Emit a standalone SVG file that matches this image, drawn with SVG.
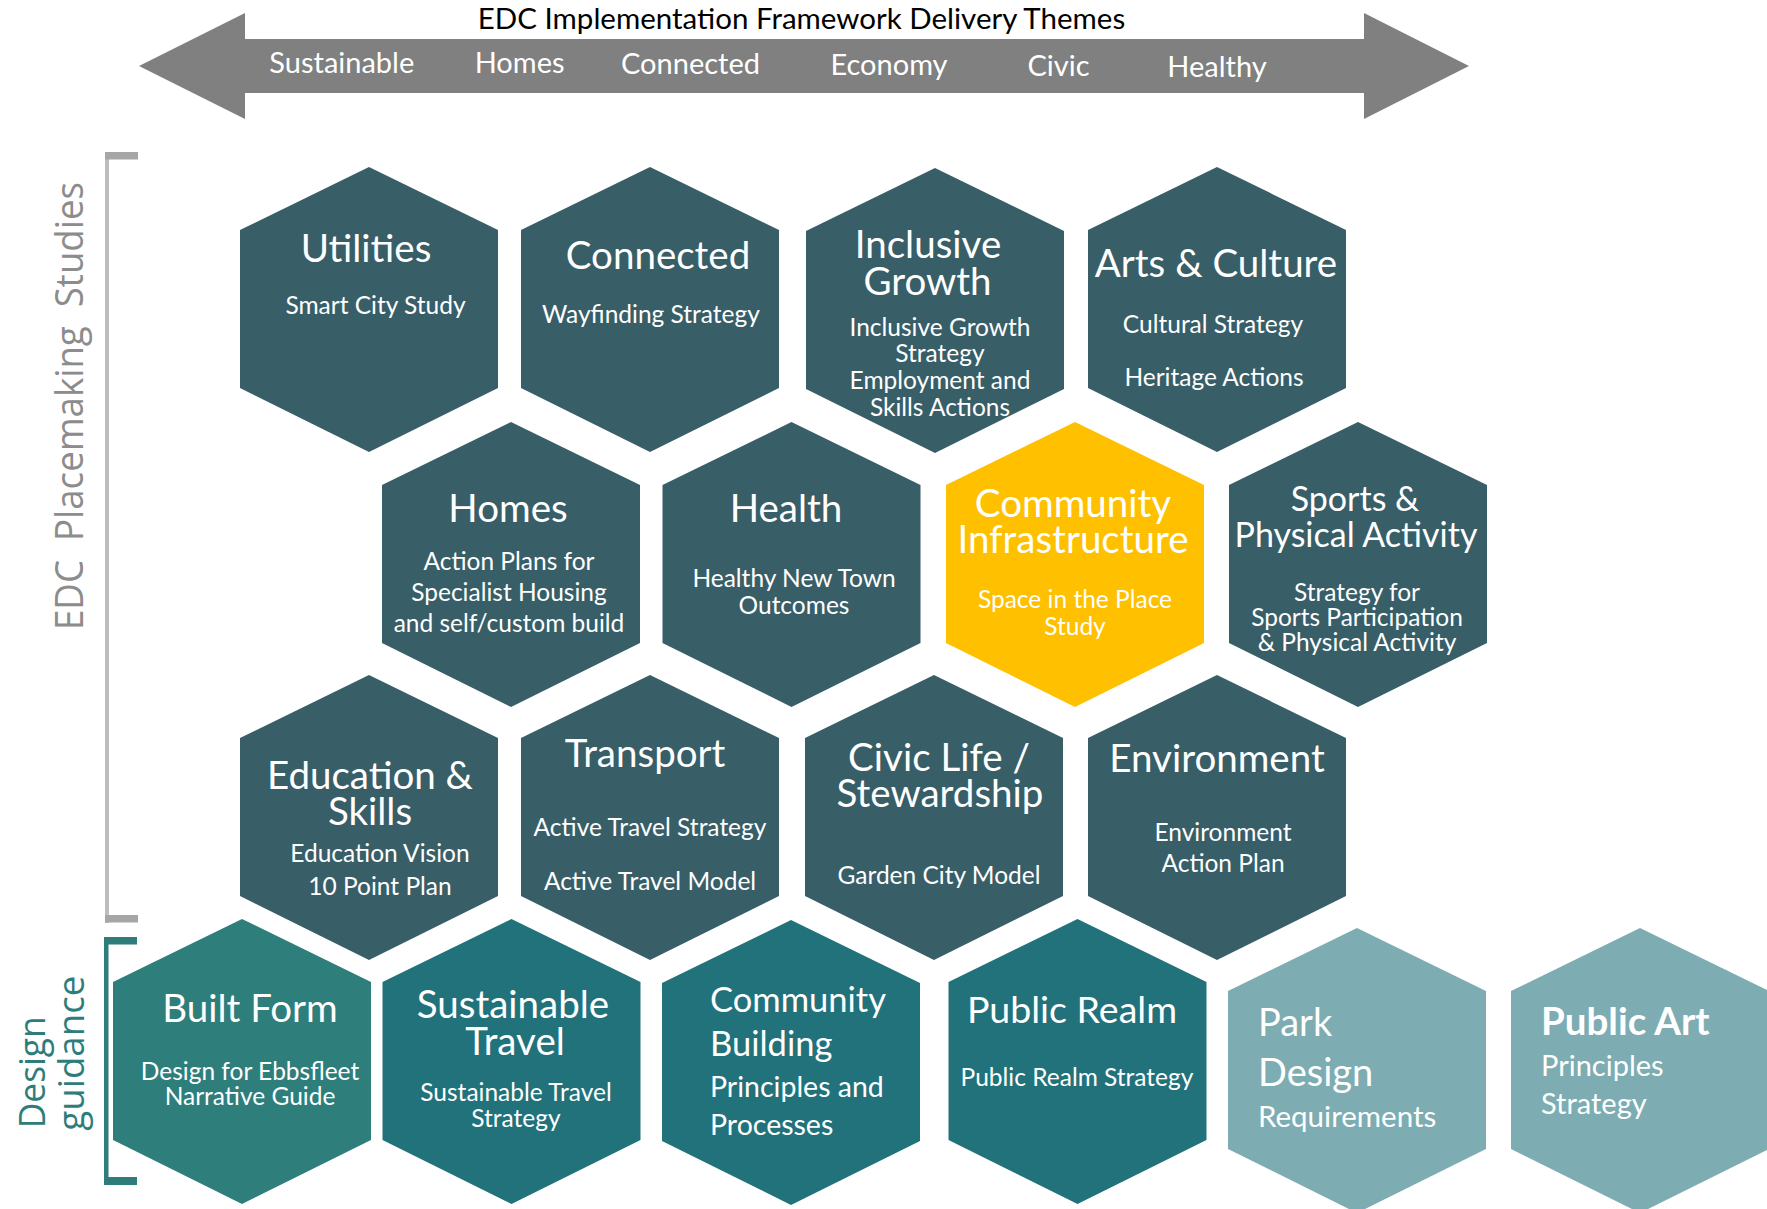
<svg xmlns="http://www.w3.org/2000/svg" xmlns:xlink="http://www.w3.org/1999/xlink" width="1767" height="1209" viewBox="0 0 1767 1209">
<defs>
<style>
.dark{fill:#385E68}
.built{fill:#2E7E7C}
.teal{fill:#22727C}
.light{fill:#7DADB2}
.yellow{fill:#FFC000}
text{font-family:Lato,"Liberation Sans",sans-serif}
.t{fill:#fff;text-anchor:middle}
.h{font-size:38.5px}
.s{font-size:24.5px}
.l{text-anchor:start}
.band{fill:#fff;font-size:29px;text-anchor:middle}
.side{font-family:"Open Sans","Noto Sans",sans-serif}
</style>
<polygon id="hex" points="0,0 129,63 129,221 0,285 -129,221 -129,63"/>
</defs>
<rect width="1767" height="1209" fill="#fff"/>

<g id="theme-arrow">
<polygon points="139,66 245,13 245,39 1364,39 1364,13 1469,66 1364,119 1364,93 245,93 245,119" fill="#808080"/>
<text x="801.5" y="29.3" font-size="29.5" text-anchor="middle" fill="#000">EDC Implementation Framework Delivery Themes</text>
<text class="band" x="341.8" y="72.7">Sustainable</text>
<text class="band" x="519.6" y="72.7">Homes</text>
<text class="band" x="690.5" y="74">Connected</text>
<text class="band" x="889" y="75">Economy</text>
<text class="band" x="1058.5" y="76">Civic</text>
<text class="band" x="1217" y="76.7">Healthy</text>
</g>

<g id="bracket-studies">
<rect x="105" y="152" width="4" height="771" fill="#BDBDBD"/>
<rect x="105" y="152" width="33" height="7.5" fill="#A6A6A6"/>
<rect x="105" y="915" width="33" height="7.5" fill="#A6A6A6"/>
<text class="side" transform="translate(83.3,630) rotate(-90)" font-size="38" fill="#8C8C8C" style="white-space:pre" textLength="448" lengthAdjust="spacingAndGlyphs">EDC  Placemaking  Studies</text>
</g>

<g id="bracket-guidance" fill="#2E7D7B">
<rect x="104" y="937" width="4.5" height="248"/>
<rect x="104" y="937" width="33" height="7.5"/>
<rect x="104" y="1177" width="33" height="8"/>
<text class="side" transform="translate(45,1128.3) rotate(-90)" font-size="36" textLength="112" lengthAdjust="spacingAndGlyphs">Design</text>
<text class="side" transform="translate(84,1130.7) rotate(-90)" font-size="36" textLength="155" lengthAdjust="spacingAndGlyphs">guidance</text>
</g>

<g id="connectors"/>

<g id="utilities">
<use href="#hex" x="369" y="167" class="dark"/>
<text class="t h" x="366" y="261.5">Utilities</text>
<text class="t s" x="375.5" y="314">Smart City Study</text>
</g>
<g id="connected">
<use href="#hex" x="650" y="167" class="dark"/>
<text class="t h" x="658" y="268.5">Connected</text>
<text class="t s" x="651" y="322.5">Wayfinding Strategy</text>
</g>
<g id="inclusive-growth">
<use href="#hex" x="935" y="168" class="dark"/>
<text class="t h" x="928" y="258">Inclusive</text>
<text class="t h" x="927.5" y="294.7">Growth</text>
<text class="t s" x="940" y="335.7">Inclusive Growth</text>
<text class="t s" x="940" y="362.4">Strategy</text>
<text class="t s" x="940" y="389">Employment and</text>
<text class="t s" x="940" y="415.7">Skills Actions</text>
</g>
<g id="arts-culture">
<use href="#hex" x="1217" y="167" class="dark"/>
<text class="t h" x="1216" y="277.4">Arts &amp; Culture</text>
<text class="t s" x="1213" y="333.4">Cultural Strategy</text>
<text class="t s" x="1214" y="385.7">Heritage Actions</text>
</g>

<g id="homes">
<use href="#hex" x="511" y="422" class="dark"/>
<text class="t h" x="508" y="521.7">Homes</text>
<text class="t s" x="509" y="569.7">Action Plans for</text>
<text class="t s" x="509" y="600.7">Specialist Housing</text>
<text class="t s" x="509" y="632.4">and self/custom build</text>
</g>
<g id="health">
<use href="#hex" x="791.5" y="422" class="dark"/>
<text class="t h" x="786" y="522.4">Health</text>
<text class="t s" x="794" y="587.4">Healthy New Town</text>
<text class="t s" x="794" y="614">Outcomes</text>
</g>
<g id="community-infrastructure">
<use href="#hex" x="1075" y="422" class="yellow"/>
<text class="t h" x="1073" y="517.4">Community</text>
<text class="t h" x="1073" y="553.4">Infrastructure</text>
<text class="t s" x="1075" y="608.4">Space in the Place</text>
<text class="t s" x="1075" y="635">Study</text>
</g>
<g id="sports">
<use href="#hex" x="1358" y="422" class="dark"/>
<text class="t" x="1355" y="511.4" font-size="34">Sports &amp;</text>
<text class="t" x="1356" y="547.4" font-size="34">Physical Activity</text>
<text class="t s" x="1357" y="600.7">Strategy for</text>
<text class="t s" x="1357" y="625.7">Sports Participation</text>
<text class="t s" x="1357" y="651.4">&amp; Physical Activity</text>
</g>

<g id="education">
<use href="#hex" x="369" y="675" class="dark"/>
<text class="t h" x="370" y="789">Education &amp;</text>
<text class="t h" x="370" y="824.7">Skills</text>
<text class="t s" x="380" y="862.4">Education Vision</text>
<text class="t s" x="380" y="895">10 Point Plan</text>
</g>
<g id="transport">
<use href="#hex" x="650" y="675" class="dark"/>
<text class="t h" x="645" y="766.7">Transport</text>
<text class="t s" x="650" y="835.7">Active Travel Strategy</text>
<text class="t s" x="650" y="890">Active Travel Model</text>
</g>
<g id="civic-life">
<use href="#hex" x="934" y="675" class="dark"/>
<text class="t h" x="939" y="771.4">Civic Life /</text>
<text class="t h" x="940" y="807.4">Stewardship</text>
<text class="t s" x="939" y="884">Garden City Model</text>
</g>
<g id="environment">
<use href="#hex" x="1217" y="675" class="dark"/>
<text class="t h" x="1217" y="772.4">Environment</text>
<text class="t s" x="1223" y="840.7">Environment</text>
<text class="t s" x="1223" y="872.4">Action Plan</text>
</g>

<g id="built-form">
<use href="#hex" x="242" y="919" class="built"/>
<text class="t h" x="250" y="1022.4">Built Form</text>
<text class="t s" x="250" y="1079.7">Design for Ebbsfleet</text>
<text class="t s" x="250" y="1104.7">Narrative Guide</text>
</g>
<g id="sustainable-travel">
<use href="#hex" x="511.5" y="919" class="teal"/>
<text class="t h" x="513" y="1018">Sustainable</text>
<text class="t h" x="515" y="1054.7">Travel</text>
<text class="t s" x="516" y="1100.7">Sustainable Travel</text>
<text class="t s" x="516" y="1127.4">Strategy</text>
</g>
<g id="community-building">
<use href="#hex" x="791" y="920" class="teal"/>
<text class="t l" x="710" y="1012.4" font-size="34.5">Community</text>
<text class="t l" x="710" y="1055.7" font-size="34.5">Building</text>
<text class="t l" x="710" y="1097.4" font-size="28.5">Principles and</text>
<text class="t l" x="710" y="1134.7" font-size="28.5">Processes</text>
</g>
<g id="public-realm">
<use href="#hex" x="1077.5" y="919" class="teal"/>
<text class="t" x="1072" y="1023.4" font-size="37.5">Public Realm</text>
<text class="t s" x="1077" y="1085.7">Public Realm Strategy</text>
</g>
<g id="park-design">
<use href="#hex" x="1357" y="928" class="light"/>
<text class="t l" x="1258" y="1035.7" font-size="38">Park</text>
<text class="t l" x="1258" y="1085.7" font-size="38">Design</text>
<text class="t l" x="1258" y="1127.4" font-size="29.5">Requirements</text>
</g>
<g id="public-art">
<use href="#hex" x="1640" y="928" class="light"/>
<text class="t l" x="1541" y="1035" font-size="38.5" font-weight="bold">Public Art</text>
<text class="t l" x="1541" y="1076.4" font-size="29">Principles</text>
<text class="t l" x="1541" y="1114" font-size="29">Strategy</text>
</g>
</svg>
